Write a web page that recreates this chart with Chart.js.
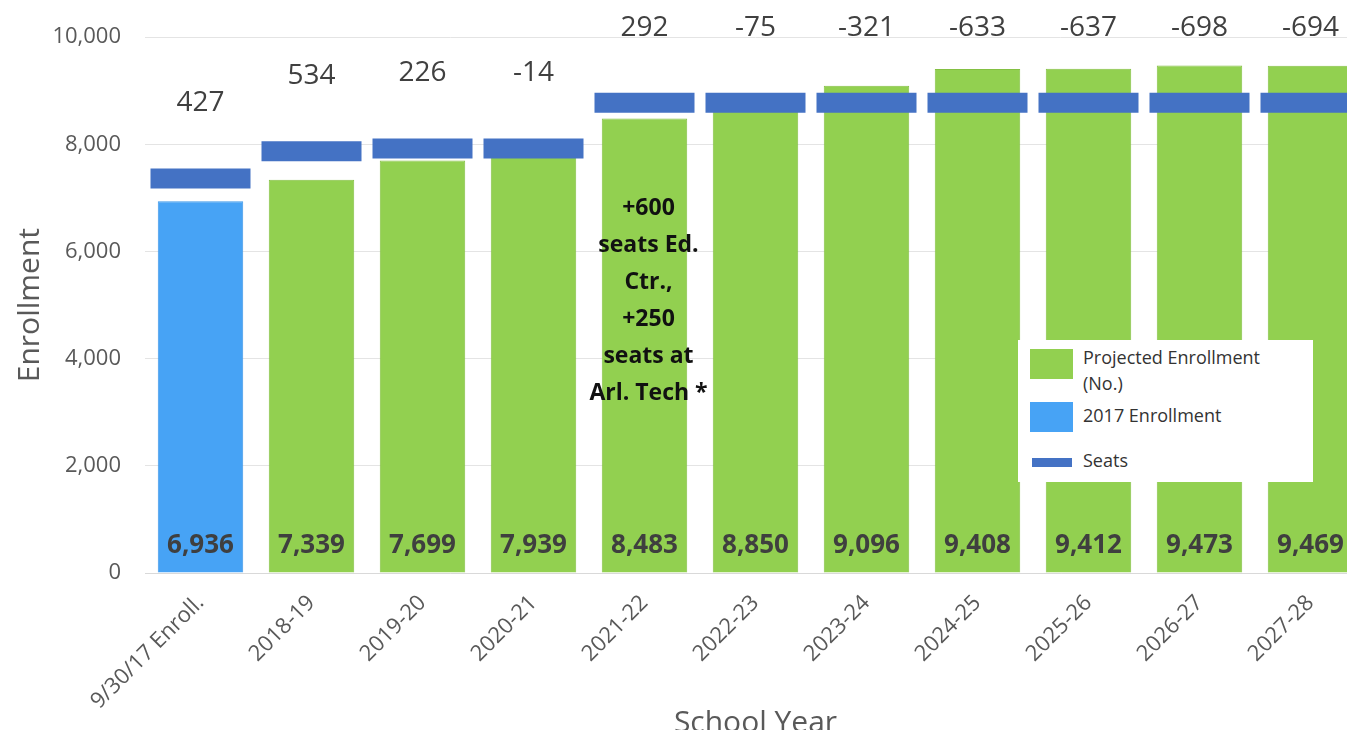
<!DOCTYPE html>
<html>
<head>
<meta charset="utf-8">
<script src="https://cdn.jsdelivr.net/npm/chart.js@4.4.1/dist/chart.umd.min.js"></script>
<style>
  html, body { margin: 0; padding: 0; background: #fff; overflow: hidden; }
  #wrap { position: relative; width: 1366px; height: 745px; }
  #legend { position: absolute; left: 1018px; top: 340px; width: 295px; height: 142px; background: #fff;
            font-family: "Open Sans", sans-serif; font-size: 18px; color: #333; }
  #legend .sw { position: absolute; }
  #legend .txt { position: absolute; left: 65px; width: 215px; line-height: 26px; }
</style>
</head>
<body>
<div id="wrap">
  <canvas id="chart"></canvas>
  <div id="legend"></div>
</div>
<script>
const categories = ['9/30/17 Enroll.', '2018-19', '2019-20', '2020-21', '2021-22', '2022-23',
                    '2023-24', '2024-25', '2025-26', '2026-27', '2027-28'];
// first value is the actual 9/30/17 count, the rest are projections
const enrollment = [6936, 7339, 7699, 7939, 8483, 8850, 9096, 9408, 9412, 9473, 9469];
const seats = [7363, 7873, 7925, 7925, 8775, 8775, 8775, 8775, 8775, 8775, 8775];
const seatGap = [427, 534, 226, -14, 292, -75, -321, -633, -637, -698, -694];
const note = ['+600', 'seats Ed.', 'Ctr.,', '+250', 'seats at', 'Arl. Tech *'];

const GREEN = '#92D050', BLUE = '#47A3F5', SEAT = '#4472C4';
const FONT = '"Open Sans", sans-serif';

const actual = enrollment.map((v, i) => i === 0 ? v : null);
const projected = enrollment.map((v, i) => i === 0 ? null : v);

const labelsPlugin = {
  id: 'labels',
  afterDatasetsDraw(chart) {
    const { ctx, scales: { x, y } } = chart;
    ctx.save();
    ctx.textAlign = 'center';
    ctx.textBaseline = 'middle';

    // values inside the bars, near the bottom
    ctx.font = 'bold 26px ' + FONT;
    ctx.fillStyle = '#3f3f3f';
    enrollment.forEach((v, i) => {
      ctx.fillText(v.toLocaleString('en-US'), x.getPixelForValue(i), y.getPixelForValue(0) - 27);
    });

    // seat surplus / shortfall above each seats mark
    ctx.font = '28px ' + FONT;
    ctx.fillStyle = '#404040';
    seatGap.forEach((v, i) => {
      ctx.fillText(String(v), x.getPixelForValue(i), y.getPixelForValue(seats[i]) - 75);
    });

    // note on 2021-22
    ctx.font = 'bold 23px ' + FONT;
    ctx.fillStyle = '#111';
    const nx = x.getPixelForValue(4) + 4;
    const ny = y.getPixelForValue(6800);
    note.forEach((t, k) => ctx.fillText(t, nx, ny + k * 37));
    ctx.restore();
  }
};

const chart = new Chart(document.getElementById('chart'), {
  type: 'bar',
  data: {
    labels: categories,
    datasets: [
      { label: 'Seats', type: 'line', data: seats, showLine: false, pointStyle: 'line',
        pointRadius: 50, pointHoverRadius: 50, pointBorderWidth: 20, pointHoverBorderWidth: 20,
        pointBorderColor: SEAT, pointBackgroundColor: SEAT, borderColor: SEAT, order: 0 },
      { label: 'Projected Enrollment (No.)', data: projected, backgroundColor: GREEN,
        borderColor: '#84c043', borderWidth: 1, grouped: false, order: 1 },
      { label: '2017 Enrollment', data: actual, backgroundColor: BLUE,
        borderColor: '#3f98e8', borderWidth: 1, grouped: false, order: 1 }
    ]
  },
  options: {
    responsive: true,
    maintainAspectRatio: false,
    animation: false,
    layout: { autoPadding: false, padding: { top: 35, left: 0, right: 0, bottom: 0 } },
    datasets: { bar: { barPercentage: 0.77, categoryPercentage: 1 } },
    plugins: { legend: { display: false }, tooltip: { enabled: false } },
    scales: {
      x: {
        grid: { display: false },
        border: { color: '#d9d9d9' },
        ticks: { autoSkip: false, maxRotation: 45, minRotation: 45, color: '#595959',
                 font: { family: FONT, size: 22 }, padding: 9 },
        title: { display: true, text: 'School Year', color: '#595959',
                 font: { family: FONT, size: 30 }, padding: { top: 0, bottom: 4 } },
        afterFit: s => { s.height = 172; }
      },
      y: {
        min: 0, max: 10000,
        ticks: { stepSize: 2000, color: '#595959', font: { family: FONT, size: 22 }, padding: 24,
                 callback: v => v.toLocaleString('en-US') },
        grid: { color: '#e4e4e4', drawTicks: false },
        border: { display: false },
        title: { display: true, text: 'Enrollment', color: '#595959',
                 font: { family: FONT, size: 30 }, padding: { top: 12, bottom: 0 } },
        afterFit: s => { s.width = 145; }
      }
    }
  },
  plugins: [labelsPlugin]
});

// legend box in the plot, built from the datasets
const legend = document.getElementById('legend');
const legendOrder = [1, 2, 0];
const swatch = [
  { top: 9, left: 12, w: 43, h: 30, txt: 4 },
  { top: 62, left: 12, w: 43, h: 30, txt: 62 },
  { top: 118, left: 14, w: 40, h: 9, txt: 107 }
];
legendOrder.forEach((di, k) => {
  const ds = chart.data.datasets[di];
  const s = swatch[k];
  const color = ds.type === 'line' ? ds.pointBorderColor : ds.backgroundColor;
  legend.insertAdjacentHTML('beforeend',
    `<div class="sw" style="left:${s.left}px;top:${s.top}px;width:${s.w}px;height:${s.h}px;background:${color}"></div>` +
    `<div class="txt" style="top:${s.txt}px">${ds.label}</div>`);
});
</script>
</body>
</html>
